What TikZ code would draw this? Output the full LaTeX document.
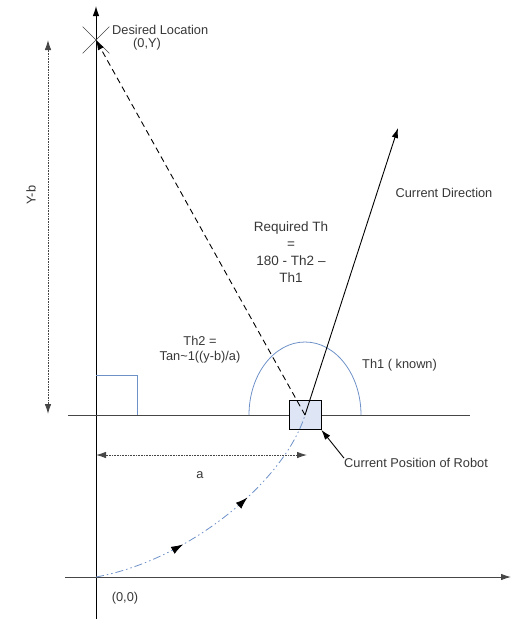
\documentclass[tikz,border=0pt]{standalone}
\usepackage{fontspec}
\setmainfont{Liberation Sans}
\usetikzlibrary{arrows.meta,shapes.misc,decorations.markings}
\definecolor{lblue}{RGB}{110,145,200}
\definecolor{rfill}{RGB}{222,230,245}
\definecolor{txt}{RGB}{55,55,55}
\definecolor{axisg}{RGB}{70,70,70}
\tikzset{
  lbl/.style={font=\fontsize{12.8}{15}\selectfont, text=txt, inner sep=0pt},
  tip/.style={-{Latex[length=10pt,width=6.5pt]}},
  dim/.style={{Latex[length=10pt,width=6.5pt]}-{Latex[length=10pt,width=6.5pt]}, draw=axisg, line width=0.9pt, dash pattern=on 1pt off 0.6pt},
  path/.style={draw=lblue, line width=0.8pt, dash pattern=on 8pt off 3pt on 1.5pt off 3pt on 1.5pt off 3pt,
    postaction={decorate}, decoration={markings,
      mark=at position 0.34 with {\arrow[black,solid,line width=0.8pt]{Latex[length=12pt,width=8pt]}},
      mark=at position 0.63 with {\arrow[black,solid,line width=0.8pt]{Latex[length=12pt,width=8pt]}}}},
}
\begin{document}
\begin{tikzpicture}[x=1pt,y=-1pt]
\useasboundingbox (0,0) rectangle (511,619);
% coordinates
\coordinate (ybot) at (96,619);
\coordinate (ytop) at (96,6);
\coordinate (xl) at (65,577);
\coordinate (xr) at (511,577);
\coordinate (O) at (96,577);
\coordinate (hl) at (68,415);
\coordinate (hr) at (470,415);
\coordinate (R) at (305,415);
\coordinate (CD) at (398,128);
\coordinate (yb1) at (48,40);
\coordinate (yb2) at (48,414);
\coordinate (a1) at (96,455);
\coordinate (a2) at (307,455);
\coordinate (sq1) at (96,375);
\coordinate (sq2) at (137,375);
\coordinate (sq3) at (137,415);
\coordinate (arcL) at (249,415);
% axes
\draw[black, line width=1pt, tip] (ybot) -- (ytop);
\draw[axisg, line width=0.9pt, tip] (xl) -- (xr);
\draw[axisg, line width=0.9pt] (hl) -- (hr);
% right angle
\draw[lblue, line width=0.8pt] (sq1) -- (sq2) -- (sq3);
% angle arc
\draw[lblue, line width=0.8pt] (arcL) arc[start angle=180, end angle=360, x radius=56, y radius=73];
% robot
\node[draw=black, fill=rfill, line width=0.7pt, minimum width=32pt, minimum height=29pt, inner sep=0pt] (robot) at (R) {};
% path of robot
\draw[path] (O) .. controls (190,560) and (285,480) .. (R);
% desired location cross
\node[cross out, draw=axisg, line width=0.7pt, minimum size=26pt, inner sep=0pt] (D) at (96,40) {};
% dashed line to target
\draw[black, line width=0.9pt, dash pattern=on 6pt off 4pt, tip] (R) -- (D.center);
% current direction
\draw[black, line width=0.9pt, tip] (R) -- (CD);
% dimensions
\draw[dim] (yb1) -- (yb2);
\draw[dim] (a1) -- (a2);
% labels
\node[lbl, anchor=west] (dl) at (112,30) {Desired Location};
\node[lbl, anchor=west] (dxy) at (133,44) {(0,Y)};
\node[lbl, rotate=90] (ybl) at (31,195) {Y-b};
\node[lbl] (cdl) at (444,193) {Current Direction};
\node[lbl, align=center, font=\fontsize{13.5}{17}\selectfont] (req) at (291,252) {Required Th\\=\\180 - Th2 –\\Th1};
\node[lbl, align=center, font=\fontsize{12.8}{15}\selectfont] (th2) at (200,350) {Th2 =\\Tan\textasciitilde1((y-b)/a)};
\node[lbl, anchor=west] (th1) at (362,365) {Th1 ( known)};
\node[lbl] (al) at (200,475) {a};
\node[lbl] (zero) at (125,598) {(0,0)};
\node[lbl, anchor=west] (cpr) at (344,463) {Current Position of Robot};
\draw[black, line width=0.9pt, tip] (cpr.north west) -- (robot.south east);
\end{tikzpicture}
\end{document}
